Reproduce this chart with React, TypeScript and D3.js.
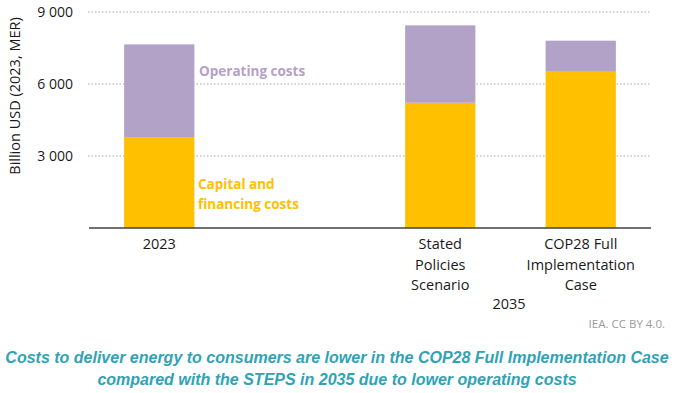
import React from 'react';
import * as d3 from 'd3';

const categories = ['2023', 'gap', 'STEPS', 'COP28'];
const categoryLabels = [['2023'], [], ['Stated', 'Policies', 'Scenario'], ['COP28 Full', 'Implementation', 'Case']];
const barCategories = ['2023', 'STEPS', 'COP28'];
const capitalCosts = [3790, 5220, 6510];
const operatingCosts = [3860, 3225, 1295];
const yTicks = [3000, 6000, 9000];

const W = 675;
const H = 393;
const font = "'Open Sans', 'Liberation Sans', Arial, sans-serif";

const App = () => {
  const x = d3.scaleBand().domain(categories).range([89, 651]).paddingInner(0.5).paddingOuter(0.25);
  const y = d3.scaleLinear().domain([0, 9000]).range([228, 12]);
  const fmt = (v: number) => d3.format(',')(v).replace(',', ' ');

  const rows = barCategories.map((c, i) => ({ cat: c, capital: capitalCosts[i], operating: operatingCosts[i] }));
  const stacked = d3.stack<any>().keys(['capital', 'operating'])(rows);
  const colors: Record<string, string> = { capital: '#FFC000', operating: '#B3A2C7' };

  return (
    <svg width={W} height={H} style={{ position: 'absolute', left: 0, top: 0, background: '#fff' }} fontFamily={font}>
      {yTicks.map((t) => (
        <g key={t}>
          <line x1={88} x2={651} y1={y(t)} y2={y(t)} stroke="#a6a6a6" strokeWidth={1} strokeDasharray="1.5 2" />
          <text x={73} y={y(t)} dy="0.35em" textAnchor="end" fontSize={14} fill="#1a1a1a">{fmt(t)}</text>
        </g>
      ))}
      <text transform={`translate(15,96) rotate(-90)`} textAnchor="middle" dy="0.35em" fontSize={14.5} fill="#1a1a1a">
        Billion USD (2023, MER)
      </text>
      {stacked.map((layer) => (
        <g key={layer.key} fill={colors[layer.key]}>
          {layer.map((d, i) => (
            <rect key={i} x={x(rows[i].cat)} width={x.bandwidth()} y={y(d[1])} height={y(d[0]) - y(d[1])} />
          ))}
        </g>
      ))}
      <line x1={89} x2={651} y1={228} y2={228} stroke="#404040" strokeWidth={1.5} />
      {categories.map((c, i) => (
        <text key={c} x={(x(c) as number) + x.bandwidth() / 2} textAnchor="middle" fontSize={14.5} fill="#1a1a1a">
          {categoryLabels[i].map((l, j) => (
            <tspan key={j} x={(x(c) as number) + x.bandwidth() / 2} y={244 + j * 20.5} dy="0.35em">{l}</tspan>
          ))}
        </text>
      ))}
      <text x={509} y={304} dy="0.35em" textAnchor="middle" fontSize={14.5} fill="#1a1a1a">2035</text>
      <text x={199} y={71} dy="0.35em" fontSize={13.5} fontWeight="bold" fill="#B3A2C7">Operating costs</text>
      <text x={198} y={184} dy="0.35em" fontSize={13.5} fontWeight="bold" fill="#FFC000">Capital and</text>
      <text x={198} y={204} dy="0.35em" fontSize={13.5} fontWeight="bold" fill="#FFC000">financing costs</text>
      <text x={665} y={324} dy="0.35em" textAnchor="end" fontSize={11.5} fill="#9a9a9a">IEA. CC BY 4.0.</text>
      <text x={337} textAnchor="middle" fontSize={16} fontWeight="bold" fontStyle="italic" fill="#2FA3B5"
        fontFamily="'Liberation Sans', Arial, sans-serif">
        <tspan x={337} y={357} dy="0.35em">Costs to deliver energy to consumers are lower in the COP28 Full Implementation Case</tspan>
        <tspan x={337} y={379} dy="0.35em">compared with the STEPS in 2035 due to lower operating costs</tspan>
      </text>
    </svg>
  );
};

export default App;
